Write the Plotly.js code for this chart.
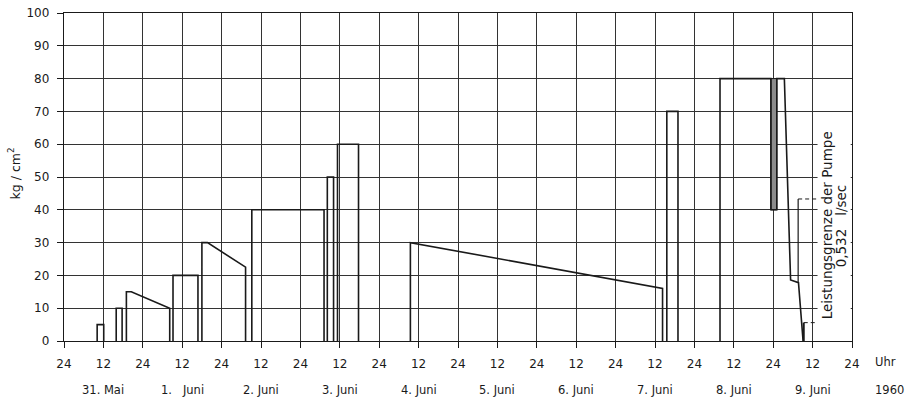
<!DOCTYPE html>
<html>
<head>
<meta charset="utf-8">
<script src="https://cdn.plot.ly/plotly-3.0.1.min.js"></script>
<style>html,body{margin:0;padding:0;background:#fff;}#chart{width:908px;height:403px;}</style>
</head>
<body>
<div id="chart"></div>
<script>
// Hours since 31 May 00:00 and pressure (kg/cm²); null separates test runs
const timeH = [10.1,10.1,12.1,12.1,null, 15.9,15.9,17.7,17.7,null, 19.0,19.0,20.5,32.2,32.2,null,
  33.2,33.2,40.8,40.8,null, 42.0,42.0,43.7,55.3,55.3,null, 57.2,57.2,79.2,79.2,null,
  80.2,80.2,82.1,82.1,null, 83.3,83.3,89.7,89.7,null, 105.5,105.5,182.3,182.3,null,
  183.6,183.6,187.0,187.0,null, 199.8,199.8,215.3,215.3,217.1,217.1,219.4,221.3,223.7,225.1];
const pressure = [0,5,5,0,null, 0,10,10,0,null, 0,15,15,10,0,null,
  0,20,20,0,null, 0,30,30,22.5,0,null, 0,40,40,0,null,
  0,50,50,0,null, 0,60,60,0,null, 0,30,16,0,null,
  0,70,70,0,null, 0,80,80,40,40,80,80,18.6,17.8,0];
// oscillation band (shaded)
const oscTime = [215.3,217.1,217.1,215.3,215.3];
const oscPressure = [40,40,80,80,40];
// pump capacity limit marker
const limitTime = [223.6,223.6];
const limitPressure = [17.8,43.3];
const limitDashTime = [223.6,229.4];
const limitDashPressure = [43.3,43.3];
const lowTime = [225.3,225.3];
const lowPressure = [0,5.6];
const lowDashTime = [225.3,229.4];
const lowDashPressure = [5.6,5.6];

const xTickVals = [0,12,24,36,48,60,72,84,96,108,120,132,144,156,168,180,192,204,216,228,240];
const xTickText = ['24','12','24','12','24','12','24','12','24','12','24','12','24','12','24','12','24','12','24','12','24'];
const dayLabels = ['31. Mai','1.\u00a0\u00a0 Juni','2. Juni','3. Juni','4. Juni','5. Juni','6. Juni','7. Juni','8. Juni','9. Juni'];
const dayNoon = [12,36,60,84,108,132,156,180,204,228];

const FONT = 'DejaVu Sans, sans-serif';
const ink = '#1a1a1a';

const traces = [
  {x: oscTime, y: oscPressure, mode:'lines', fill:'toself', fillcolor:'#8c8c8c', line:{color:ink,width:1}, hoverinfo:'skip'},
  {x: timeH, y: pressure, mode:'lines', connectgaps:false, line:{color:ink,width:1.6}},
  {x: limitTime, y: limitPressure, mode:'lines', line:{color:ink,width:1.2}},
  {x: limitDashTime, y: limitDashPressure, mode:'lines', line:{color:ink,width:1,dash:'4px,3px'}},
  {x: lowTime, y: lowPressure, mode:'lines', line:{color:ink,width:2}},
  {x: lowDashTime, y: lowDashPressure, mode:'lines', line:{color:ink,width:1,dash:'4px,3px'}}
];

const annotations = dayLabels.map((t,i)=>({
  text:t, x:dayNoon[i], xref:'x', y:-0.149, yref:'paper', showarrow:false,
  xanchor:'center', yanchor:'middle', font:{family:FONT,size:11.5,color:ink}
}));
annotations.push({text:'Uhr', x:1.0265, xref:'paper', y:-0.064, yref:'paper', showarrow:false,
  xanchor:'left', yanchor:'middle', font:{family:FONT,size:11.5,color:ink}});
annotations.push({text:'1960', x:1.0265, xref:'paper', y:-0.149, yref:'paper', showarrow:false,
  xanchor:'left', yanchor:'middle', font:{family:FONT,size:11.5,color:ink}});
annotations.push({text:'kg / cm<sup>2</sup>', x:-0.063, xref:'paper', y:0.512, yref:'paper', showarrow:false,
  textangle:-90, xanchor:'center', yanchor:'middle', font:{family:FONT,size:12.5,color:ink}});
annotations.push({text:'Leistungsgrenze der Pumpe', x:232.4, xref:'x', y:35.3, yref:'y',
  showarrow:false, textangle:-90, xanchor:'center', yanchor:'middle',
  font:{family:FONT,size:13.5,color:ink}});
annotations.push({text:'0,532\u00a0\u00a0 l/sec', x:236.7, xref:'x', y:35.0, yref:'y',
  showarrow:false, textangle:-90, xanchor:'center', yanchor:'middle',
  font:{family:FONT,size:13.5,color:ink}});

const layout = {
  width:908, height:403,
  margin:{l:64, r:56, t:13, b:62, pad:0},
  paper_bgcolor:'#fff', plot_bgcolor:'#fff',
  showlegend:false,
  font:{family:FONT, size:12, color:ink},
  xaxis:{range:[0,240], tickvals:xTickVals, ticktext:xTickText, ticks:'outside', ticklen:6,
    tickcolor:ink, tickwidth:1, showgrid:true, gridcolor:'#333', gridwidth:1,
    showline:true, linecolor:ink, linewidth:1.2, mirror:true, zeroline:false,
    ticklabelstandoff:5,
    tickfont:{family:FONT,size:12,color:ink}, fixedrange:true},
  yaxis:{range:[0,100], dtick:10, tick0:0, ticks:'outside', ticklen:6,
    tickcolor:ink, tickwidth:1, showgrid:true, gridcolor:'#333', gridwidth:1,
    showline:true, linecolor:ink, linewidth:1.2, mirror:true, zeroline:false,
    ticklabelstandoff:5,
    tickfont:{family:FONT,size:12,color:ink}, fixedrange:true},
  shapes:[
    {type:'rect', xref:'x', yref:'y', x0:229.5, x1:239.6, y0:2.5, y1:66, fillcolor:'#fff', line:{width:0}, layer:'above'}
  ],
  annotations: annotations
};

Plotly.newPlot('chart', traces, layout, {displayModeBar:false, staticPlot:true});
</script>
</body>
</html>
